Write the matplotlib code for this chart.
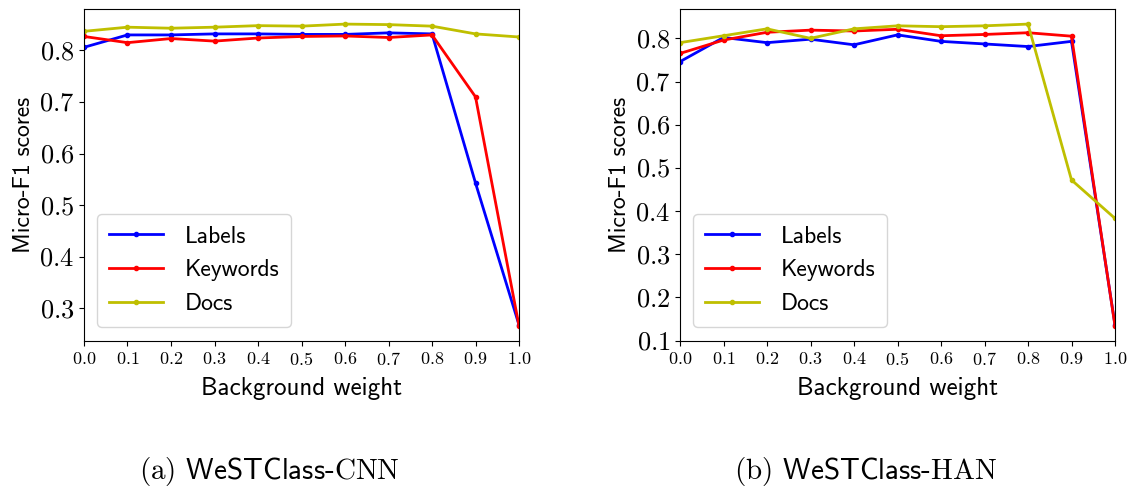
import numpy as np
import matplotlib
matplotlib.use('Agg')
import matplotlib.pyplot as plt
from matplotlib.ticker import FuncFormatter, MultipleLocator

plt.rcParams['mathtext.fontset'] = 'cm'
plt.rcParams['font.family'] = ['cmss10', 'DejaVu Sans']

weights = [0.0, 0.1, 0.2, 0.3, 0.4, 0.5, 0.6, 0.7, 0.8, 0.9, 1.0]

# WeSTClass-CNN
cnn_labels = [0.806, 0.830, 0.830, 0.832, 0.832, 0.831, 0.831, 0.834, 0.832, 0.543, 0.268]
cnn_keywords = [0.827, 0.815, 0.823, 0.818, 0.824, 0.827, 0.828, 0.825, 0.830, 0.710, 0.266]
cnn_docs = [0.837, 0.845, 0.843, 0.845, 0.848, 0.847, 0.851, 0.850, 0.847, 0.832, 0.826]

# WeSTClass-HAN
han_labels = [0.746, 0.802, 0.790, 0.798, 0.785, 0.808, 0.793, 0.787, 0.781, 0.793, 0.136]
han_keywords = [0.765, 0.796, 0.814, 0.819, 0.817, 0.821, 0.806, 0.809, 0.813, 0.805, 0.134]
han_docs = [0.790, 0.806, 0.822, 0.800, 0.822, 0.829, 0.827, 0.829, 0.833, 0.472, 0.383]

panels = [
    ([cnn_labels, cnn_keywords, cnn_docs], r'$\mathrm{(a)}$ WeSTClass-$\mathrm{CNN}$'),
    ([han_labels, han_keywords, han_docs], r'$\mathrm{(b)}$ WeSTClass-$\mathrm{HAN}$'),
]
names = ['Labels', 'Keywords', 'Docs']
colors = ['b', 'r', 'y']

fig = plt.figure(figsize=(11.4, 4.95), dpi=100)
lefts = [84 / 1140, 680 / 1140]
tickfmt = FuncFormatter(lambda v, p: r'$%.1f$' % v)

for (series, caption), left in zip(panels, lefts):
    ax = fig.add_axes([left, 1 - 341 / 495, 435 / 1140, 332 / 495])
    for vals, name, c in zip(series, names, colors):
        ax.plot(weights, vals, color=c, marker='.', markersize=6, linewidth=2, label=name)
    ax.set_xlim(0, 1)
    ax.set_xticks(weights)
    ax.yaxis.set_major_locator(MultipleLocator(0.1))
    ax.xaxis.set_major_formatter(tickfmt)
    ax.yaxis.set_major_formatter(tickfmt)
    ax.tick_params(axis='x', labelsize=13)
    ax.tick_params(axis='y', labelsize=19)
    ax.set_xlabel('Background weight', fontsize=18, labelpad=7)
    ax.set_ylabel('Micro-F1 scores', fontsize=17, labelpad=3)
    ax.legend(loc='lower left', fontsize=17, handlelength=2.3, borderpad=0.5,
              labelspacing=0.5, handletextpad=0.9, borderaxespad=0,
              bbox_to_anchor=(0.03, 0.042))
    fig.text(left + 0.163, 1 - 472 / 495, caption, ha='center', va='center', fontsize=21)

plt.savefig('out.png', dpi=100)
